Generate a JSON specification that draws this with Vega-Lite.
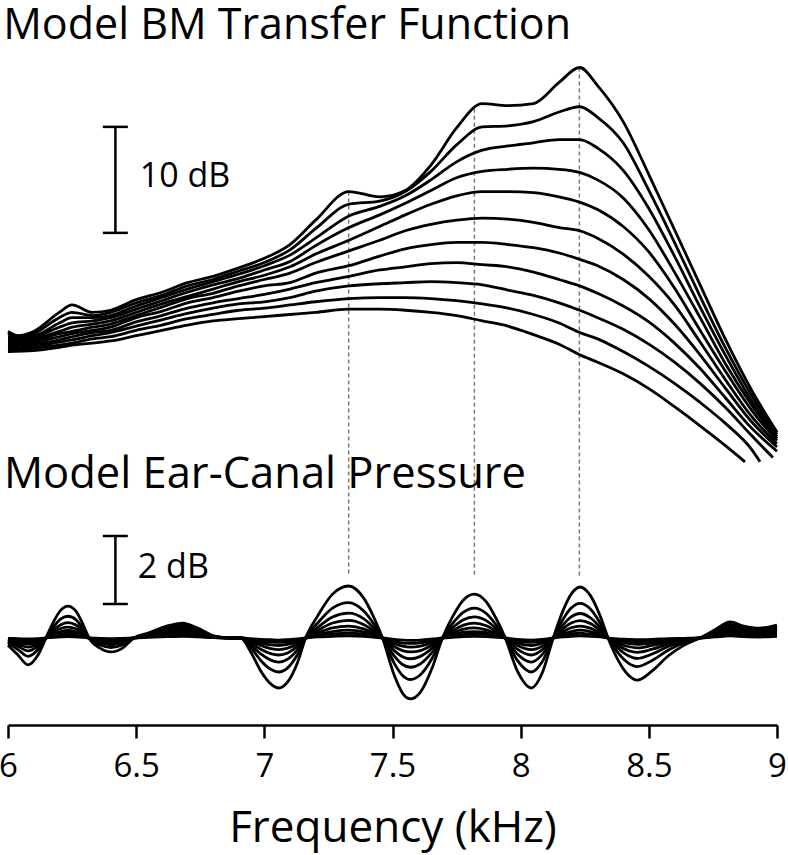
{
"$schema":"https://vega.github.io/schema/vega-lite/v6.json",
"width":769,"height":725,
"autosize":{"type":"none"},
"padding":{"left":8,"top":0,"right":11,"bottom":130},
"background":"white",
"config":{"view":{"stroke":null},"font":"Open Sans"},
"datasets":{
"bm":[
{"f":6.0,"k":1,"v":9.3},{"f":6.04,"k":1,"v":8.9},{"f":6.1,"k":1,"v":9.3},{"f":6.2,"k":1,"v":11.1},{"f":6.25,"k":1,"v":11.8},{"f":6.33,"k":1,"v":11.1},{"f":6.4,"k":1,"v":11.3},{"f":6.5,"k":1,"v":12.3},{"f":6.6,"k":1,"v":13.0},{"f":6.7,"k":1,"v":13.9},{"f":6.8,"k":1,"v":14.5},{"f":6.9,"k":1,"v":15.3},{"f":7.0,"k":1,"v":16.2},{"f":7.1,"k":1,"v":17.5},{"f":7.2,"k":1,"v":19.8},{"f":7.33,"k":1,"v":22.5},{"f":7.45,"k":1,"v":22.0},{"f":7.55,"k":1,"v":22.6},{"f":7.65,"k":1,"v":25.0},{"f":7.75,"k":1,"v":28.5},{"f":7.85,"k":1,"v":30.8},{"f":7.95,"k":1,"v":30.6},{"f":8.05,"k":1,"v":30.8},{"f":8.15,"k":1,"v":32.8},{"f":8.23,"k":1,"v":34.2},{"f":8.3,"k":1,"v":32.5},{"f":8.4,"k":1,"v":29.1},{"f":8.5,"k":1,"v":24.1},{"f":8.6,"k":1,"v":18.9},{"f":8.7,"k":1,"v":13.7},{"f":8.8,"k":1,"v":8.5},{"f":8.9,"k":1,"v":3.8},{"f":9.0,"k":1,"v":-0.2},
{"f":6.0,"k":2,"v":9.1},{"f":6.04,"k":2,"v":8.8},{"f":6.1,"k":2,"v":9.1},{"f":6.2,"k":2,"v":10.6},{"f":6.25,"k":2,"v":11.1},{"f":6.33,"k":2,"v":10.8},{"f":6.4,"k":2,"v":11.1},{"f":6.5,"k":2,"v":12.0},{"f":6.6,"k":2,"v":12.7},{"f":6.7,"k":2,"v":13.6},{"f":6.8,"k":2,"v":14.2},{"f":6.9,"k":2,"v":15.0},{"f":7.0,"k":2,"v":15.8},{"f":7.1,"k":2,"v":17.0},{"f":7.2,"k":2,"v":19.0},{"f":7.33,"k":2,"v":21.3},{"f":7.45,"k":2,"v":21.6},{"f":7.55,"k":2,"v":22.5},{"f":7.65,"k":2,"v":24.4},{"f":7.75,"k":2,"v":26.9},{"f":7.85,"k":2,"v":28.6},{"f":7.95,"k":2,"v":28.7},{"f":8.05,"k":2,"v":29.1},{"f":8.15,"k":2,"v":30.0},{"f":8.23,"k":2,"v":30.5},{"f":8.3,"k":2,"v":29.5},{"f":8.4,"k":2,"v":27.1},{"f":8.5,"k":2,"v":22.6},{"f":8.6,"k":2,"v":17.7},{"f":8.7,"k":2,"v":12.6},{"f":8.8,"k":2,"v":7.7},{"f":8.9,"k":2,"v":3.3},{"f":9.0,"k":2,"v":-0.4},
{"f":6.0,"k":3,"v":8.8},{"f":6.1,"k":3,"v":8.9},{"f":6.2,"k":3,"v":10.1},{"f":6.25,"k":3,"v":10.6},{"f":6.33,"k":3,"v":10.6},{"f":6.4,"k":3,"v":10.8},{"f":6.5,"k":3,"v":11.7},{"f":6.6,"k":3,"v":12.5},{"f":6.7,"k":3,"v":13.3},{"f":6.8,"k":3,"v":14.0},{"f":6.9,"k":3,"v":14.7},{"f":7.0,"k":3,"v":15.5},{"f":7.1,"k":3,"v":16.5},{"f":7.2,"k":3,"v":18.1},{"f":7.33,"k":3,"v":20.2},{"f":7.45,"k":3,"v":21.1},{"f":7.55,"k":3,"v":22.1},{"f":7.65,"k":3,"v":23.6},{"f":7.75,"k":3,"v":25.3},{"f":7.85,"k":3,"v":26.4},{"f":7.95,"k":3,"v":26.8},{"f":8.05,"k":3,"v":27.1},{"f":8.15,"k":3,"v":27.4},{"f":8.23,"k":3,"v":27.4},{"f":8.3,"k":3,"v":26.6},{"f":8.4,"k":3,"v":24.5},{"f":8.5,"k":3,"v":20.9},{"f":8.6,"k":3,"v":16.4},{"f":8.7,"k":3,"v":11.6},{"f":8.8,"k":3,"v":7.0},{"f":8.9,"k":3,"v":2.8},{"f":9.0,"k":3,"v":-0.6},
{"f":6.0,"k":4,"v":8.6},{"f":6.1,"k":4,"v":8.8},{"f":6.2,"k":4,"v":9.7},{"f":6.25,"k":4,"v":10.1},{"f":6.33,"k":4,"v":10.3},{"f":6.4,"k":4,"v":10.6},{"f":6.5,"k":4,"v":11.4},{"f":6.6,"k":4,"v":12.2},{"f":6.7,"k":4,"v":13.0},{"f":6.8,"k":4,"v":13.7},{"f":6.9,"k":4,"v":14.3},{"f":7.0,"k":4,"v":15.1},{"f":7.1,"k":4,"v":15.9},{"f":7.2,"k":4,"v":17.4},{"f":7.33,"k":4,"v":19.1},{"f":7.45,"k":4,"v":20.3},{"f":7.55,"k":4,"v":21.4},{"f":7.65,"k":4,"v":22.6},{"f":7.75,"k":4,"v":23.8},{"f":7.85,"k":4,"v":24.4},{"f":7.95,"k":4,"v":24.6},{"f":8.05,"k":4,"v":24.7},{"f":8.15,"k":4,"v":24.6},{"f":8.23,"k":4,"v":24.3},{"f":8.3,"k":4,"v":23.6},{"f":8.4,"k":4,"v":21.9},{"f":8.5,"k":4,"v":18.9},{"f":8.6,"k":4,"v":14.9},{"f":8.7,"k":4,"v":10.6},{"f":8.8,"k":4,"v":6.2},{"f":8.9,"k":4,"v":2.4},{"f":9.0,"k":4,"v":-0.8},
{"f":6.0,"k":5,"v":8.4},{"f":6.1,"k":5,"v":8.6},{"f":6.2,"k":5,"v":9.3},{"f":6.25,"k":5,"v":9.7},{"f":6.33,"k":5,"v":10.0},{"f":6.4,"k":5,"v":10.3},{"f":6.5,"k":5,"v":11.1},{"f":6.6,"k":5,"v":11.9},{"f":6.7,"k":5,"v":12.6},{"f":6.8,"k":5,"v":13.3},{"f":6.9,"k":5,"v":14.0},{"f":7.0,"k":5,"v":14.6},{"f":7.1,"k":5,"v":15.4},{"f":7.2,"k":5,"v":16.6},{"f":7.33,"k":5,"v":17.9},{"f":7.45,"k":5,"v":19.2},{"f":7.55,"k":5,"v":20.3},{"f":7.65,"k":5,"v":21.3},{"f":7.75,"k":5,"v":22.1},{"f":7.85,"k":5,"v":22.5},{"f":7.95,"k":5,"v":22.5},{"f":8.05,"k":5,"v":22.4},{"f":8.15,"k":5,"v":22.0},{"f":8.23,"k":5,"v":21.5},{"f":8.3,"k":5,"v":20.8},{"f":8.4,"k":5,"v":19.2},{"f":8.5,"k":5,"v":16.8},{"f":8.6,"k":5,"v":13.4},{"f":8.7,"k":5,"v":9.4},{"f":8.8,"k":5,"v":5.5},{"f":8.9,"k":5,"v":1.9},{"f":9.0,"k":5,"v":-1.0},
{"f":6.0,"k":6,"v":8.2},{"f":6.1,"k":6,"v":8.4},{"f":6.2,"k":6,"v":9.1},{"f":6.25,"k":6,"v":9.3},{"f":6.33,"k":6,"v":9.7},{"f":6.4,"k":6,"v":10.0},{"f":6.5,"k":6,"v":10.8},{"f":6.6,"k":6,"v":11.6},{"f":6.7,"k":6,"v":12.4},{"f":6.8,"k":6,"v":12.9},{"f":6.9,"k":6,"v":13.6},{"f":7.0,"k":6,"v":14.2},{"f":7.1,"k":6,"v":14.8},{"f":7.2,"k":6,"v":15.8},{"f":7.33,"k":6,"v":16.9},{"f":7.45,"k":6,"v":17.9},{"f":7.55,"k":6,"v":18.8},{"f":7.65,"k":6,"v":19.4},{"f":7.75,"k":6,"v":19.8},{"f":7.85,"k":6,"v":20.0},{"f":7.95,"k":6,"v":19.9},{"f":8.05,"k":6,"v":19.6},{"f":8.15,"k":6,"v":19.1},{"f":8.23,"k":6,"v":18.8},{"f":8.3,"k":6,"v":18.1},{"f":8.4,"k":6,"v":16.6},{"f":8.5,"k":6,"v":14.5},{"f":8.6,"k":6,"v":11.8},{"f":8.7,"k":6,"v":8.3},{"f":8.8,"k":6,"v":4.7},{"f":8.9,"k":6,"v":1.3},{"f":9.0,"k":6,"v":-1.3},
{"f":6.0,"k":7,"v":8.1},{"f":6.1,"k":7,"v":8.3},{"f":6.2,"k":7,"v":8.8},{"f":6.25,"k":7,"v":9.1},{"f":6.33,"k":7,"v":9.4},{"f":6.4,"k":7,"v":9.7},{"f":6.5,"k":7,"v":10.6},{"f":6.6,"k":7,"v":11.2},{"f":6.7,"k":7,"v":12.0},{"f":6.8,"k":7,"v":12.5},{"f":6.9,"k":7,"v":13.1},{"f":7.0,"k":7,"v":13.6},{"f":7.1,"k":7,"v":13.9},{"f":7.2,"k":7,"v":14.8},{"f":7.33,"k":7,"v":15.5},{"f":7.45,"k":7,"v":16.4},{"f":7.55,"k":7,"v":17.1},{"f":7.65,"k":7,"v":17.5},{"f":7.75,"k":7,"v":17.7},{"f":7.85,"k":7,"v":17.7},{"f":7.95,"k":7,"v":17.5},{"f":8.05,"k":7,"v":17.2},{"f":8.15,"k":7,"v":16.7},{"f":8.23,"k":7,"v":16.1},{"f":8.3,"k":7,"v":15.5},{"f":8.4,"k":7,"v":14.2},{"f":8.5,"k":7,"v":12.4},{"f":8.6,"k":7,"v":10.0},{"f":8.7,"k":7,"v":7.1},{"f":8.8,"k":7,"v":3.9},{"f":8.9,"k":7,"v":0.8},{"f":9.0,"k":7,"v":-1.6},
{"f":6.0,"k":8,"v":7.9},{"f":6.1,"k":8,"v":8.1},{"f":6.2,"k":8,"v":8.5},{"f":6.25,"k":8,"v":8.8},{"f":6.33,"k":8,"v":9.2},{"f":6.4,"k":8,"v":9.4},{"f":6.5,"k":8,"v":10.2},{"f":6.6,"k":8,"v":10.8},{"f":6.7,"k":8,"v":11.5},{"f":6.8,"k":8,"v":12.0},{"f":6.9,"k":8,"v":12.4},{"f":7.0,"k":8,"v":12.8},{"f":7.1,"k":8,"v":13.3},{"f":7.2,"k":8,"v":13.9},{"f":7.33,"k":8,"v":14.5},{"f":7.45,"k":8,"v":15.1},{"f":7.55,"k":8,"v":15.4},{"f":7.65,"k":8,"v":15.7},{"f":7.75,"k":8,"v":15.8},{"f":7.85,"k":8,"v":15.6},{"f":7.95,"k":8,"v":15.4},{"f":8.05,"k":8,"v":14.9},{"f":8.15,"k":8,"v":14.2},{"f":8.23,"k":8,"v":13.6},{"f":8.3,"k":8,"v":12.9},{"f":8.4,"k":8,"v":11.7},{"f":8.5,"k":8,"v":10.2},{"f":8.6,"k":8,"v":8.2},{"f":8.7,"k":8,"v":5.8},{"f":8.8,"k":8,"v":3.0},{"f":8.9,"k":8,"v":0.2},{"f":9.0,"k":8,"v":-2.0},
{"f":6.0,"k":9,"v":7.7},{"f":6.1,"k":9,"v":7.9},{"f":6.2,"k":9,"v":8.3},{"f":6.25,"k":9,"v":8.5},{"f":6.33,"k":9,"v":8.9},{"f":6.4,"k":9,"v":9.2},{"f":6.5,"k":9,"v":9.8},{"f":6.6,"k":9,"v":10.4},{"f":6.7,"k":9,"v":11.0},{"f":6.8,"k":9,"v":11.5},{"f":6.9,"k":9,"v":11.9},{"f":7.0,"k":9,"v":12.1},{"f":7.1,"k":9,"v":12.5},{"f":7.2,"k":9,"v":13.1},{"f":7.33,"k":9,"v":13.6},{"f":7.45,"k":9,"v":13.8},{"f":7.55,"k":9,"v":13.9},{"f":7.65,"k":9,"v":14.0},{"f":7.75,"k":9,"v":13.9},{"f":7.85,"k":9,"v":13.7},{"f":7.95,"k":9,"v":13.2},{"f":8.05,"k":9,"v":12.7},{"f":8.15,"k":9,"v":12.0},{"f":8.23,"k":9,"v":11.3},{"f":8.3,"k":9,"v":10.6},{"f":8.4,"k":9,"v":9.5},{"f":8.5,"k":9,"v":8.1},{"f":8.6,"k":9,"v":6.4},{"f":8.7,"k":9,"v":4.4},{"f":8.8,"k":9,"v":2.1},{"f":8.9,"k":9,"v":-0.5},{"f":8.984,"k":9,"v":-2.6},
{"f":6.0,"k":10,"v":7.5},{"f":6.1,"k":10,"v":7.7},{"f":6.2,"k":10,"v":8.0},{"f":6.25,"k":10,"v":8.2},{"f":6.33,"k":10,"v":8.6},{"f":6.4,"k":10,"v":8.8},{"f":6.5,"k":10,"v":9.4},{"f":6.6,"k":10,"v":9.9},{"f":6.7,"k":10,"v":10.5},{"f":6.8,"k":10,"v":10.9},{"f":6.9,"k":10,"v":11.3},{"f":7.0,"k":10,"v":11.5},{"f":7.1,"k":10,"v":11.8},{"f":7.2,"k":10,"v":12.1},{"f":7.33,"k":10,"v":12.4},{"f":7.45,"k":10,"v":12.5},{"f":7.55,"k":10,"v":12.5},{"f":7.65,"k":10,"v":12.4},{"f":7.75,"k":10,"v":12.2},{"f":7.85,"k":10,"v":11.9},{"f":7.95,"k":10,"v":11.5},{"f":8.05,"k":10,"v":10.9},{"f":8.15,"k":10,"v":10.1},{"f":8.23,"k":10,"v":9.2},{"f":8.3,"k":10,"v":8.6},{"f":8.4,"k":10,"v":7.4},{"f":8.5,"k":10,"v":6.0},{"f":8.6,"k":10,"v":4.4},{"f":8.7,"k":10,"v":2.6},{"f":8.8,"k":10,"v":0.6},{"f":8.9,"k":10,"v":-1.8},{"f":8.934,"k":10,"v":-3.0},
{"f":6.0,"k":11,"v":7.4},{"f":6.1,"k":11,"v":7.5},{"f":6.2,"k":11,"v":7.8},{"f":6.25,"k":11,"v":8.0},{"f":6.33,"k":11,"v":8.2},{"f":6.4,"k":11,"v":8.4},{"f":6.5,"k":11,"v":8.9},{"f":6.6,"k":11,"v":9.4},{"f":6.7,"k":11,"v":9.9},{"f":6.8,"k":11,"v":10.3},{"f":6.9,"k":11,"v":10.5},{"f":7.0,"k":11,"v":10.7},{"f":7.1,"k":11,"v":10.9},{"f":7.2,"k":11,"v":11.1},{"f":7.33,"k":11,"v":11.4},{"f":7.45,"k":11,"v":11.4},{"f":7.55,"k":11,"v":11.3},{"f":7.65,"k":11,"v":11.1},{"f":7.75,"k":11,"v":10.8},{"f":7.85,"k":11,"v":10.3},{"f":7.95,"k":11,"v":9.8},{"f":8.05,"k":11,"v":9.0},{"f":8.15,"k":11,"v":8.1},{"f":8.23,"k":11,"v":7.1},{"f":8.3,"k":11,"v":6.4},{"f":8.4,"k":11,"v":5.3},{"f":8.5,"k":11,"v":3.9},{"f":8.6,"k":11,"v":2.2},{"f":8.7,"k":11,"v":0.4},{"f":8.8,"k":11,"v":-1.5},{"f":8.875,"k":11,"v":-3.0}
],
"ec":[
{"f":6.000,"k":1,"v":-0.21},{"f":6.039,"k":1,"v":-0.50},{"f":6.078,"k":1,"v":-0.79},{"f":6.117,"k":1,"v":-0.50},{"f":6.148,"k":1,"v":0},{"f":6.175,"k":1,"v":0.44},{"f":6.206,"k":1,"v":0.82},{"f":6.234,"k":1,"v":0.94},{"f":6.265,"k":1,"v":0.79},{"f":6.292,"k":1,"v":0.41},{"f":6.316,"k":1,"v":0},{"f":6.358,"k":1,"v":-0.29},{"f":6.401,"k":1,"v":-0.41},{"f":6.448,"k":1,"v":-0.29},{"f":6.491,"k":1,"v":0},{"f":6.549,"k":1,"v":0.15},{"f":6.619,"k":1,"v":0.35},{"f":6.682,"k":1,"v":0.44},{"f":6.740,"k":1,"v":0.29},{"f":6.803,"k":1,"v":0.06},{"f":6.869,"k":1,"v":0},{"f":6.908,"k":1,"v":0},{"f":6.947,"k":1,"v":-0.41},{"f":6.986,"k":1,"v":-0.97},{"f":7.025,"k":1,"v":-1.35},{"f":7.056,"k":1,"v":-1.47},{"f":7.091,"k":1,"v":-1.29},{"f":7.130,"k":1,"v":-0.71},{"f":7.161,"k":1,"v":0},{"f":7.208,"k":1,"v":0.65},{"f":7.266,"k":1,"v":1.29},{"f":7.329,"k":1,"v":1.53},{"f":7.387,"k":1,"v":1.18},{"f":7.430,"k":1,"v":0.56},{"f":7.461,"k":1,"v":0},{"f":7.508,"k":1,"v":-1.12},{"f":7.539,"k":1,"v":-1.62},{"f":7.570,"k":1,"v":-1.79},{"f":7.609,"k":1,"v":-1.59},{"f":7.656,"k":1,"v":-0.85},{"f":7.695,"k":1,"v":0},{"f":7.734,"k":1,"v":0.62},{"f":7.777,"k":1,"v":1.12},{"f":7.819,"k":1,"v":1.29},{"f":7.866,"k":1,"v":1.06},{"f":7.905,"k":1,"v":0.56},{"f":7.940,"k":1,"v":0},{"f":7.987,"k":1,"v":-0.97},{"f":8.042,"k":1,"v":-1.47},{"f":8.084,"k":1,"v":-1.03},{"f":8.127,"k":1,"v":0},{"f":8.166,"k":1,"v":0.82},{"f":8.197,"k":1,"v":1.29},{"f":8.232,"k":1,"v":1.50},{"f":8.271,"k":1,"v":1.26},{"f":8.310,"k":1,"v":0.65},{"f":8.341,"k":1,"v":0},{"f":8.380,"k":1,"v":-0.65},{"f":8.420,"k":1,"v":-1.09},{"f":8.455,"k":1,"v":-1.24},{"f":8.513,"k":1,"v":-0.97},{"f":8.575,"k":1,"v":-0.53},{"f":8.638,"k":1,"v":-0.21},{"f":8.700,"k":1,"v":0},{"f":8.758,"k":1,"v":0.24},{"f":8.817,"k":1,"v":0.47},{"f":8.871,"k":1,"v":0.35},{"f":8.930,"k":1,"v":0.29},{"f":9.000,"k":1,"v":0.38},
{"f":6.000,"k":2,"v":-0.14},{"f":6.039,"k":2,"v":-0.34},{"f":6.078,"k":2,"v":-0.54},{"f":6.117,"k":2,"v":-0.34},{"f":6.148,"k":2,"v":0},{"f":6.175,"k":2,"v":0.30},{"f":6.206,"k":2,"v":0.56},{"f":6.234,"k":2,"v":0.64},{"f":6.265,"k":2,"v":0.54},{"f":6.292,"k":2,"v":0.28},{"f":6.316,"k":2,"v":0},{"f":6.358,"k":2,"v":-0.20},{"f":6.401,"k":2,"v":-0.28},{"f":6.448,"k":2,"v":-0.20},{"f":6.491,"k":2,"v":0},{"f":6.549,"k":2,"v":0.13},{"f":6.619,"k":2,"v":0.30},{"f":6.682,"k":2,"v":0.37},{"f":6.740,"k":2,"v":0.25},{"f":6.803,"k":2,"v":0.05},{"f":6.869,"k":2,"v":0},{"f":6.908,"k":2,"v":0},{"f":6.947,"k":2,"v":-0.28},{"f":6.986,"k":2,"v":-0.66},{"f":7.025,"k":2,"v":-0.92},{"f":7.056,"k":2,"v":-1.00},{"f":7.091,"k":2,"v":-0.88},{"f":7.130,"k":2,"v":-0.48},{"f":7.161,"k":2,"v":0},{"f":7.208,"k":2,"v":0.44},{"f":7.266,"k":2,"v":0.88},{"f":7.329,"k":2,"v":1.04},{"f":7.387,"k":2,"v":0.80},{"f":7.430,"k":2,"v":0.38},{"f":7.461,"k":2,"v":0},{"f":7.508,"k":2,"v":-0.76},{"f":7.539,"k":2,"v":-1.10},{"f":7.570,"k":2,"v":-1.22},{"f":7.609,"k":2,"v":-1.08},{"f":7.656,"k":2,"v":-0.58},{"f":7.695,"k":2,"v":0},{"f":7.734,"k":2,"v":0.42},{"f":7.777,"k":2,"v":0.76},{"f":7.819,"k":2,"v":0.88},{"f":7.866,"k":2,"v":0.72},{"f":7.905,"k":2,"v":0.38},{"f":7.940,"k":2,"v":0},{"f":7.987,"k":2,"v":-0.66},{"f":8.042,"k":2,"v":-1.00},{"f":8.084,"k":2,"v":-0.70},{"f":8.127,"k":2,"v":0},{"f":8.166,"k":2,"v":0.56},{"f":8.197,"k":2,"v":0.88},{"f":8.232,"k":2,"v":1.02},{"f":8.271,"k":2,"v":0.86},{"f":8.310,"k":2,"v":0.44},{"f":8.341,"k":2,"v":0},{"f":8.380,"k":2,"v":-0.44},{"f":8.420,"k":2,"v":-0.74},{"f":8.455,"k":2,"v":-0.84},{"f":8.513,"k":2,"v":-0.66},{"f":8.575,"k":2,"v":-0.36},{"f":8.638,"k":2,"v":-0.14},{"f":8.700,"k":2,"v":0},{"f":8.758,"k":2,"v":0.20},{"f":8.817,"k":2,"v":0.40},{"f":8.871,"k":2,"v":0.30},{"f":8.930,"k":2,"v":0.25},{"f":9.000,"k":2,"v":0.32},
{"f":6.000,"k":3,"v":-0.10},{"f":6.039,"k":3,"v":-0.24},{"f":6.078,"k":3,"v":-0.38},{"f":6.117,"k":3,"v":-0.24},{"f":6.148,"k":3,"v":0},{"f":6.175,"k":3,"v":0.21},{"f":6.206,"k":3,"v":0.39},{"f":6.234,"k":3,"v":0.45},{"f":6.265,"k":3,"v":0.38},{"f":6.292,"k":3,"v":0.20},{"f":6.316,"k":3,"v":0},{"f":6.358,"k":3,"v":-0.14},{"f":6.401,"k":3,"v":-0.20},{"f":6.448,"k":3,"v":-0.14},{"f":6.491,"k":3,"v":0},{"f":6.549,"k":3,"v":0.11},{"f":6.619,"k":3,"v":0.25},{"f":6.682,"k":3,"v":0.32},{"f":6.740,"k":3,"v":0.21},{"f":6.803,"k":3,"v":0.04},{"f":6.869,"k":3,"v":0},{"f":6.908,"k":3,"v":0},{"f":6.947,"k":3,"v":-0.20},{"f":6.986,"k":3,"v":-0.47},{"f":7.025,"k":3,"v":-0.65},{"f":7.056,"k":3,"v":-0.71},{"f":7.091,"k":3,"v":-0.62},{"f":7.130,"k":3,"v":-0.34},{"f":7.161,"k":3,"v":0},{"f":7.208,"k":3,"v":0.31},{"f":7.266,"k":3,"v":0.62},{"f":7.329,"k":3,"v":0.73},{"f":7.387,"k":3,"v":0.57},{"f":7.430,"k":3,"v":0.27},{"f":7.461,"k":3,"v":0},{"f":7.508,"k":3,"v":-0.54},{"f":7.539,"k":3,"v":-0.78},{"f":7.570,"k":3,"v":-0.86},{"f":7.609,"k":3,"v":-0.76},{"f":7.656,"k":3,"v":-0.41},{"f":7.695,"k":3,"v":0},{"f":7.734,"k":3,"v":0.30},{"f":7.777,"k":3,"v":0.54},{"f":7.819,"k":3,"v":0.62},{"f":7.866,"k":3,"v":0.51},{"f":7.905,"k":3,"v":0.27},{"f":7.940,"k":3,"v":0},{"f":7.987,"k":3,"v":-0.47},{"f":8.042,"k":3,"v":-0.71},{"f":8.084,"k":3,"v":-0.49},{"f":8.127,"k":3,"v":0},{"f":8.166,"k":3,"v":0.39},{"f":8.197,"k":3,"v":0.62},{"f":8.232,"k":3,"v":0.72},{"f":8.271,"k":3,"v":0.60},{"f":8.310,"k":3,"v":0.31},{"f":8.341,"k":3,"v":0},{"f":8.380,"k":3,"v":-0.31},{"f":8.420,"k":3,"v":-0.52},{"f":8.455,"k":3,"v":-0.60},{"f":8.513,"k":3,"v":-0.47},{"f":8.575,"k":3,"v":-0.25},{"f":8.638,"k":3,"v":-0.10},{"f":8.700,"k":3,"v":0},{"f":8.758,"k":3,"v":0.17},{"f":8.817,"k":3,"v":0.34},{"f":8.871,"k":3,"v":0.25},{"f":8.930,"k":3,"v":0.21},{"f":9.000,"k":3,"v":0.27},
{"f":6.000,"k":4,"v":-0.07},{"f":6.039,"k":4,"v":-0.17},{"f":6.078,"k":4,"v":-0.27},{"f":6.117,"k":4,"v":-0.17},{"f":6.148,"k":4,"v":0},{"f":6.175,"k":4,"v":0.15},{"f":6.206,"k":4,"v":0.28},{"f":6.234,"k":4,"v":0.32},{"f":6.265,"k":4,"v":0.27},{"f":6.292,"k":4,"v":0.14},{"f":6.316,"k":4,"v":0},{"f":6.358,"k":4,"v":-0.10},{"f":6.401,"k":4,"v":-0.14},{"f":6.448,"k":4,"v":-0.10},{"f":6.491,"k":4,"v":0},{"f":6.549,"k":4,"v":0.09},{"f":6.619,"k":4,"v":0.21},{"f":6.682,"k":4,"v":0.26},{"f":6.740,"k":4,"v":0.17},{"f":6.803,"k":4,"v":0.04},{"f":6.869,"k":4,"v":0},{"f":6.908,"k":4,"v":0},{"f":6.947,"k":4,"v":-0.14},{"f":6.986,"k":4,"v":-0.33},{"f":7.025,"k":4,"v":-0.46},{"f":7.056,"k":4,"v":-0.50},{"f":7.091,"k":4,"v":-0.44},{"f":7.130,"k":4,"v":-0.24},{"f":7.161,"k":4,"v":0},{"f":7.208,"k":4,"v":0.22},{"f":7.266,"k":4,"v":0.44},{"f":7.329,"k":4,"v":0.52},{"f":7.387,"k":4,"v":0.40},{"f":7.430,"k":4,"v":0.19},{"f":7.461,"k":4,"v":0},{"f":7.508,"k":4,"v":-0.38},{"f":7.539,"k":4,"v":-0.55},{"f":7.570,"k":4,"v":-0.61},{"f":7.609,"k":4,"v":-0.54},{"f":7.656,"k":4,"v":-0.29},{"f":7.695,"k":4,"v":0},{"f":7.734,"k":4,"v":0.21},{"f":7.777,"k":4,"v":0.38},{"f":7.819,"k":4,"v":0.44},{"f":7.866,"k":4,"v":0.36},{"f":7.905,"k":4,"v":0.19},{"f":7.940,"k":4,"v":0},{"f":7.987,"k":4,"v":-0.33},{"f":8.042,"k":4,"v":-0.50},{"f":8.084,"k":4,"v":-0.35},{"f":8.127,"k":4,"v":0},{"f":8.166,"k":4,"v":0.28},{"f":8.197,"k":4,"v":0.44},{"f":8.232,"k":4,"v":0.51},{"f":8.271,"k":4,"v":0.43},{"f":8.310,"k":4,"v":0.22},{"f":8.341,"k":4,"v":0},{"f":8.380,"k":4,"v":-0.22},{"f":8.420,"k":4,"v":-0.37},{"f":8.455,"k":4,"v":-0.42},{"f":8.513,"k":4,"v":-0.33},{"f":8.575,"k":4,"v":-0.18},{"f":8.638,"k":4,"v":-0.07},{"f":8.700,"k":4,"v":0},{"f":8.758,"k":4,"v":0.14},{"f":8.817,"k":4,"v":0.28},{"f":8.871,"k":4,"v":0.21},{"f":8.930,"k":4,"v":0.17},{"f":9.000,"k":4,"v":0.23},
{"f":6.000,"k":5,"v":-0.05},{"f":6.039,"k":5,"v":-0.12},{"f":6.078,"k":5,"v":-0.18},{"f":6.117,"k":5,"v":-0.12},{"f":6.148,"k":5,"v":0},{"f":6.175,"k":5,"v":0.10},{"f":6.206,"k":5,"v":0.19},{"f":6.234,"k":5,"v":0.22},{"f":6.265,"k":5,"v":0.18},{"f":6.292,"k":5,"v":0.09},{"f":6.316,"k":5,"v":0},{"f":6.358,"k":5,"v":-0.07},{"f":6.401,"k":5,"v":-0.09},{"f":6.448,"k":5,"v":-0.07},{"f":6.491,"k":5,"v":0},{"f":6.549,"k":5,"v":0.07},{"f":6.619,"k":5,"v":0.17},{"f":6.682,"k":5,"v":0.21},{"f":6.740,"k":5,"v":0.14},{"f":6.803,"k":5,"v":0.03},{"f":6.869,"k":5,"v":0},{"f":6.908,"k":5,"v":0},{"f":6.947,"k":5,"v":-0.09},{"f":6.986,"k":5,"v":-0.22},{"f":7.025,"k":5,"v":-0.31},{"f":7.056,"k":5,"v":-0.34},{"f":7.091,"k":5,"v":-0.30},{"f":7.130,"k":5,"v":-0.16},{"f":7.161,"k":5,"v":0},{"f":7.208,"k":5,"v":0.15},{"f":7.266,"k":5,"v":0.30},{"f":7.329,"k":5,"v":0.35},{"f":7.387,"k":5,"v":0.27},{"f":7.430,"k":5,"v":0.13},{"f":7.461,"k":5,"v":0},{"f":7.508,"k":5,"v":-0.26},{"f":7.539,"k":5,"v":-0.37},{"f":7.570,"k":5,"v":-0.41},{"f":7.609,"k":5,"v":-0.37},{"f":7.656,"k":5,"v":-0.20},{"f":7.695,"k":5,"v":0},{"f":7.734,"k":5,"v":0.14},{"f":7.777,"k":5,"v":0.26},{"f":7.819,"k":5,"v":0.30},{"f":7.866,"k":5,"v":0.24},{"f":7.905,"k":5,"v":0.13},{"f":7.940,"k":5,"v":0},{"f":7.987,"k":5,"v":-0.22},{"f":8.042,"k":5,"v":-0.34},{"f":8.084,"k":5,"v":-0.24},{"f":8.127,"k":5,"v":0},{"f":8.166,"k":5,"v":0.19},{"f":8.197,"k":5,"v":0.30},{"f":8.232,"k":5,"v":0.35},{"f":8.271,"k":5,"v":0.29},{"f":8.310,"k":5,"v":0.15},{"f":8.341,"k":5,"v":0},{"f":8.380,"k":5,"v":-0.15},{"f":8.420,"k":5,"v":-0.25},{"f":8.455,"k":5,"v":-0.29},{"f":8.513,"k":5,"v":-0.22},{"f":8.575,"k":5,"v":-0.12},{"f":8.638,"k":5,"v":-0.05},{"f":8.700,"k":5,"v":0},{"f":8.758,"k":5,"v":0.12},{"f":8.817,"k":5,"v":0.23},{"f":8.871,"k":5,"v":0.17},{"f":8.930,"k":5,"v":0.14},{"f":9.000,"k":5,"v":0.18},
{"f":6.000,"k":6,"v":-0.03},{"f":6.039,"k":6,"v":-0.08},{"f":6.078,"k":6,"v":-0.12},{"f":6.117,"k":6,"v":-0.08},{"f":6.148,"k":6,"v":0},{"f":6.175,"k":6,"v":0.07},{"f":6.206,"k":6,"v":0.12},{"f":6.234,"k":6,"v":0.14},{"f":6.265,"k":6,"v":0.12},{"f":6.292,"k":6,"v":0.06},{"f":6.316,"k":6,"v":0},{"f":6.358,"k":6,"v":-0.04},{"f":6.401,"k":6,"v":-0.06},{"f":6.448,"k":6,"v":-0.04},{"f":6.491,"k":6,"v":0},{"f":6.549,"k":6,"v":0.05},{"f":6.619,"k":6,"v":0.13},{"f":6.682,"k":6,"v":0.16},{"f":6.740,"k":6,"v":0.10},{"f":6.803,"k":6,"v":0.02},{"f":6.869,"k":6,"v":0},{"f":6.908,"k":6,"v":0},{"f":6.947,"k":6,"v":-0.06},{"f":6.986,"k":6,"v":-0.15},{"f":7.025,"k":6,"v":-0.20},{"f":7.056,"k":6,"v":-0.22},{"f":7.091,"k":6,"v":-0.19},{"f":7.130,"k":6,"v":-0.11},{"f":7.161,"k":6,"v":0},{"f":7.208,"k":6,"v":0.10},{"f":7.266,"k":6,"v":0.19},{"f":7.329,"k":6,"v":0.23},{"f":7.387,"k":6,"v":0.18},{"f":7.430,"k":6,"v":0.08},{"f":7.461,"k":6,"v":0},{"f":7.508,"k":6,"v":-0.17},{"f":7.539,"k":6,"v":-0.24},{"f":7.570,"k":6,"v":-0.27},{"f":7.609,"k":6,"v":-0.24},{"f":7.656,"k":6,"v":-0.13},{"f":7.695,"k":6,"v":0},{"f":7.734,"k":6,"v":0.09},{"f":7.777,"k":6,"v":0.17},{"f":7.819,"k":6,"v":0.19},{"f":7.866,"k":6,"v":0.16},{"f":7.905,"k":6,"v":0.08},{"f":7.940,"k":6,"v":0},{"f":7.987,"k":6,"v":-0.15},{"f":8.042,"k":6,"v":-0.22},{"f":8.084,"k":6,"v":-0.15},{"f":8.127,"k":6,"v":0},{"f":8.166,"k":6,"v":0.12},{"f":8.197,"k":6,"v":0.19},{"f":8.232,"k":6,"v":0.23},{"f":8.271,"k":6,"v":0.19},{"f":8.310,"k":6,"v":0.10},{"f":8.341,"k":6,"v":0},{"f":8.380,"k":6,"v":-0.10},{"f":8.420,"k":6,"v":-0.16},{"f":8.455,"k":6,"v":-0.19},{"f":8.513,"k":6,"v":-0.15},{"f":8.575,"k":6,"v":-0.08},{"f":8.638,"k":6,"v":-0.03},{"f":8.700,"k":6,"v":0},{"f":8.758,"k":6,"v":0.09},{"f":8.817,"k":6,"v":0.17},{"f":8.871,"k":6,"v":0.13},{"f":8.930,"k":6,"v":0.10},{"f":9.000,"k":6,"v":0.14},
{"f":6.000,"k":7,"v":-0.02},{"f":6.039,"k":7,"v":-0.05},{"f":6.078,"k":7,"v":-0.07},{"f":6.117,"k":7,"v":-0.05},{"f":6.148,"k":7,"v":0},{"f":6.175,"k":7,"v":0.04},{"f":6.206,"k":7,"v":0.07},{"f":6.234,"k":7,"v":0.08},{"f":6.265,"k":7,"v":0.07},{"f":6.292,"k":7,"v":0.04},{"f":6.316,"k":7,"v":0},{"f":6.358,"k":7,"v":-0.03},{"f":6.401,"k":7,"v":-0.04},{"f":6.448,"k":7,"v":-0.03},{"f":6.491,"k":7,"v":0},{"f":6.549,"k":7,"v":0.04},{"f":6.619,"k":7,"v":0.08},{"f":6.682,"k":7,"v":0.11},{"f":6.740,"k":7,"v":0.07},{"f":6.803,"k":7,"v":0.01},{"f":6.869,"k":7,"v":0},{"f":6.908,"k":7,"v":0},{"f":6.947,"k":7,"v":-0.04},{"f":6.986,"k":7,"v":-0.09},{"f":7.025,"k":7,"v":-0.12},{"f":7.056,"k":7,"v":-0.13},{"f":7.091,"k":7,"v":-0.12},{"f":7.130,"k":7,"v":-0.06},{"f":7.161,"k":7,"v":0},{"f":7.208,"k":7,"v":0.06},{"f":7.266,"k":7,"v":0.12},{"f":7.329,"k":7,"v":0.14},{"f":7.387,"k":7,"v":0.11},{"f":7.430,"k":7,"v":0.05},{"f":7.461,"k":7,"v":0},{"f":7.508,"k":7,"v":-0.10},{"f":7.539,"k":7,"v":-0.15},{"f":7.570,"k":7,"v":-0.16},{"f":7.609,"k":7,"v":-0.14},{"f":7.656,"k":7,"v":-0.08},{"f":7.695,"k":7,"v":0},{"f":7.734,"k":7,"v":0.06},{"f":7.777,"k":7,"v":0.10},{"f":7.819,"k":7,"v":0.12},{"f":7.866,"k":7,"v":0.10},{"f":7.905,"k":7,"v":0.05},{"f":7.940,"k":7,"v":0},{"f":7.987,"k":7,"v":-0.09},{"f":8.042,"k":7,"v":-0.13},{"f":8.084,"k":7,"v":-0.09},{"f":8.127,"k":7,"v":0},{"f":8.166,"k":7,"v":0.07},{"f":8.197,"k":7,"v":0.12},{"f":8.232,"k":7,"v":0.14},{"f":8.271,"k":7,"v":0.11},{"f":8.310,"k":7,"v":0.06},{"f":8.341,"k":7,"v":0},{"f":8.380,"k":7,"v":-0.06},{"f":8.420,"k":7,"v":-0.10},{"f":8.455,"k":7,"v":-0.11},{"f":8.513,"k":7,"v":-0.09},{"f":8.575,"k":7,"v":-0.05},{"f":8.638,"k":7,"v":-0.02},{"f":8.700,"k":7,"v":0},{"f":8.758,"k":7,"v":0.06},{"f":8.817,"k":7,"v":0.11},{"f":8.871,"k":7,"v":0.08},{"f":8.930,"k":7,"v":0.07},{"f":9.000,"k":7,"v":0.09},
{"f":6.000,"k":8,"v":-0.01},{"f":6.039,"k":8,"v":-0.02},{"f":6.078,"k":8,"v":-0.03},{"f":6.117,"k":8,"v":-0.02},{"f":6.148,"k":8,"v":0},{"f":6.175,"k":8,"v":0.02},{"f":6.206,"k":8,"v":0.03},{"f":6.234,"k":8,"v":0.04},{"f":6.265,"k":8,"v":0.03},{"f":6.292,"k":8,"v":0.02},{"f":6.316,"k":8,"v":0},{"f":6.358,"k":8,"v":-0.01},{"f":6.401,"k":8,"v":-0.02},{"f":6.448,"k":8,"v":-0.01},{"f":6.491,"k":8,"v":0},{"f":6.549,"k":8,"v":0.02},{"f":6.619,"k":8,"v":0.04},{"f":6.682,"k":8,"v":0.05},{"f":6.740,"k":8,"v":0.03},{"f":6.803,"k":8,"v":0.01},{"f":6.869,"k":8,"v":0},{"f":6.908,"k":8,"v":0},{"f":6.947,"k":8,"v":-0.02},{"f":6.986,"k":8,"v":-0.04},{"f":7.025,"k":8,"v":-0.05},{"f":7.056,"k":8,"v":-0.06},{"f":7.091,"k":8,"v":-0.05},{"f":7.130,"k":8,"v":-0.03},{"f":7.161,"k":8,"v":0},{"f":7.208,"k":8,"v":0.03},{"f":7.266,"k":8,"v":0.05},{"f":7.329,"k":8,"v":0.06},{"f":7.387,"k":8,"v":0.05},{"f":7.430,"k":8,"v":0.02},{"f":7.461,"k":8,"v":0},{"f":7.508,"k":8,"v":-0.04},{"f":7.539,"k":8,"v":-0.06},{"f":7.570,"k":8,"v":-0.07},{"f":7.609,"k":8,"v":-0.06},{"f":7.656,"k":8,"v":-0.03},{"f":7.695,"k":8,"v":0},{"f":7.734,"k":8,"v":0.02},{"f":7.777,"k":8,"v":0.04},{"f":7.819,"k":8,"v":0.05},{"f":7.866,"k":8,"v":0.04},{"f":7.905,"k":8,"v":0.02},{"f":7.940,"k":8,"v":0},{"f":7.987,"k":8,"v":-0.04},{"f":8.042,"k":8,"v":-0.06},{"f":8.084,"k":8,"v":-0.04},{"f":8.127,"k":8,"v":0},{"f":8.166,"k":8,"v":0.03},{"f":8.197,"k":8,"v":0.05},{"f":8.232,"k":8,"v":0.06},{"f":8.271,"k":8,"v":0.05},{"f":8.310,"k":8,"v":0.03},{"f":8.341,"k":8,"v":0},{"f":8.380,"k":8,"v":-0.03},{"f":8.420,"k":8,"v":-0.04},{"f":8.455,"k":8,"v":-0.05},{"f":8.513,"k":8,"v":-0.04},{"f":8.575,"k":8,"v":-0.02},{"f":8.638,"k":8,"v":-0.01},{"f":8.700,"k":8,"v":0},{"f":8.758,"k":8,"v":0.03},{"f":8.817,"k":8,"v":0.06},{"f":8.871,"k":8,"v":0.04},{"f":8.930,"k":8,"v":0.03},{"f":9.000,"k":8,"v":0.05}
]
},
"encoding":{"x":{"field":"f","type":"quantitative","scale":{"domain":[6,9],"nice":false,"zero":false},
"axis":{"values":[6,6.5,7,7.5,8,8.5,9],"labelExpr":"datum.value","grid":false,"domainColor":"black","domainWidth":2.5,"tickColor":"black","tickWidth":2.5,"tickSize":13,"labelFont":"Open Sans","labelFontSize":33,"labelColor":"black","labelPadding":12,"labelFlush":false,"labelOverlap":false,"labelBound":false,"title":"Frequency (kHz)","titleFont":"Open Sans","titleFontSize":44,"titleFontWeight":"normal","titleColor":"black","titlePadding":23}}},
"layer":[
{"layer":[
{"data":{"values":[{"f":7.329,"v":22.5,"v2":-13.8},{"f":7.8195,"v":30.3,"v2":-13.8},{"f":8.229,"v":34.2,"v2":-13.8}]},
 "mark":{"type":"rule","color":"#7a7a7a","strokeWidth":1.5,"strokeDash":[4,3]},
 "encoding":{"y":{"field":"v","type":"quantitative","scale":{"domain":[-27.83,40.57],"nice":false,"zero":false},"axis":null},"y2":{"field":"v2"}}},
{"data":{"name":"bm"},
 "mark":{"type":"line","interpolate":"monotone","color":"black","strokeWidth":2.8},
 "encoding":{"y":{"field":"v","type":"quantitative","scale":{"domain":[-27.83,40.57],"nice":false,"zero":false},"axis":null},"detail":{"field":"k","type":"nominal"}}},
{"data":{"values":[{"f":6.419,"f2":6.419,"v":18.6,"v2":28.6},{"f":6.37,"f2":6.4675,"v":28.6,"v2":28.6},{"f":6.37,"f2":6.4675,"v":18.6,"v2":18.6}]},
 "mark":{"type":"rule","color":"black","strokeWidth":2.5},
 "encoding":{"x2":{"field":"f2"},"y":{"field":"v","type":"quantitative","scale":{"domain":[-27.83,40.57],"nice":false,"zero":false},"axis":null},"y2":{"field":"v2"}}},
{"data":{"values":[{"f":5.981,"v":36.85,"t":"Model BM Transfer Function"}]},
 "mark":{"type":"text","align":"left","baseline":"alphabetic","fontSize":43,"font":"Open Sans","color":"black"},
 "encoding":{"y":{"field":"v","type":"quantitative","scale":{"domain":[-27.83,40.57],"nice":false,"zero":false},"axis":null},"text":{"field":"t"}}},
{"data":{"values":[{"f":6.514,"v":23.87,"t":"10 dB"}]},
 "mark":{"type":"text","align":"left","baseline":"middle","fontSize":34,"font":"Open Sans","color":"black"},
 "encoding":{"y":{"field":"v","type":"quantitative","scale":{"domain":[-27.83,40.57],"nice":false,"zero":false},"axis":null},"text":{"field":"t"}}}
]},
{"layer":[
{"data":{"name":"ec"},
 "mark":{"type":"line","interpolate":"monotone","color":"black","strokeWidth":2.8},
 "encoding":{"y":{"field":"v","type":"quantitative","scale":{"domain":[-2.559,18.765],"nice":false,"zero":false},"axis":null},"detail":{"field":"k","type":"nominal"}}},
{"data":{"values":[{"f":6.419,"f2":6.419,"v":1,"v2":3},{"f":6.37,"f2":6.4675,"v":3,"v2":3},{"f":6.37,"f2":6.4675,"v":1,"v2":1}]},
 "mark":{"type":"rule","color":"black","strokeWidth":2.5},
 "encoding":{"x2":{"field":"f2"},"y":{"field":"v","type":"quantitative","scale":{"domain":[-2.559,18.765],"nice":false,"zero":false},"axis":null},"y2":{"field":"v2"}}},
{"data":{"values":[{"f":5.984,"v":4.41,"t":"Model Ear-Canal Pressure"}]},
 "mark":{"type":"text","align":"left","baseline":"alphabetic","fontSize":43.5,"font":"Open Sans","color":"black"},
 "encoding":{"y":{"field":"v","type":"quantitative","scale":{"domain":[-2.559,18.765],"nice":false,"zero":false},"axis":null},"text":{"field":"t"}}},
{"data":{"values":[{"f":6.5065,"v":2.06,"t":"2 dB"}]},
 "mark":{"type":"text","align":"left","baseline":"middle","fontSize":34,"font":"Open Sans","color":"black"},
 "encoding":{"y":{"field":"v","type":"quantitative","scale":{"domain":[-2.559,18.765],"nice":false,"zero":false},"axis":null},"text":{"field":"t"}}}
]}
],
"resolve":{"scale":{"y":"independent"}}
}
